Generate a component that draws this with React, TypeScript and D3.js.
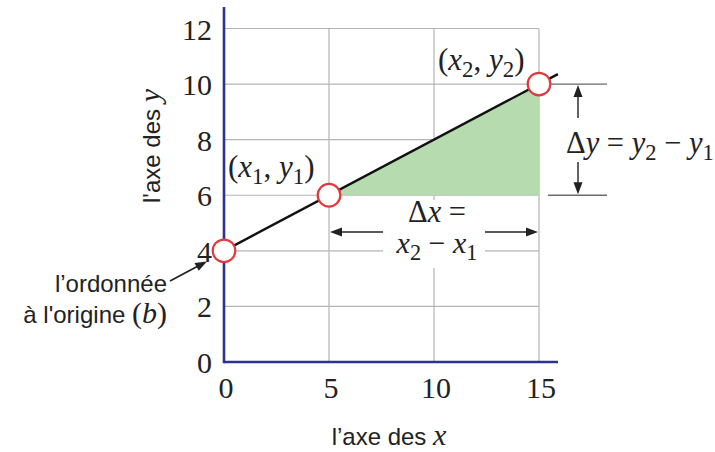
import React from "react";
import * as d3 from "d3";

const xTicks = [0, 5, 10, 15];
const yTicks = [0, 2, 4, 6, 8, 10, 12];
const points = [
  { x: 0, y: 4 },
  { x: 5, y: 6 },
  { x: 15, y: 10 },
];
const lineStart = { x: 0, y: 4 };
const lineEnd = { x: 15.9, y: 10.36 };
const triangle = [
  { x: 5, y: 6 },
  { x: 15, y: 10 },
  { x: 15, y: 6 },
];

const SERIF = "'Liberation Serif', 'Times New Roman', serif";
const SANS = "'Liberation Sans', Arial, sans-serif";

type Seg = { t: string; it?: boolean; sub?: boolean };

function MathText({ x, y, segs, size, anchor = "start" }: { x: number; y: number; segs: Seg[]; size: number; anchor?: string }) {
  const out: React.ReactNode[] = [];
  let inSub = false;
  segs.forEach((s, i) => {
    let dy = 0;
    if (s.sub && !inSub) { dy = size * 0.22; inSub = true; }
    else if (!s.sub && inSub) { dy = -size * 0.22; inSub = false; }
    out.push(
      <tspan key={i} dy={dy || undefined} fontStyle={s.it ? "italic" : "normal"} fontSize={s.sub ? size * 0.74 : size}>
        {s.t}
      </tspan>
    );
  });
  return (
    <text x={x} y={y} fontFamily={SERIF} fontSize={size} textAnchor={anchor} fill="#222">
      {out}
    </text>
  );
}

export default function App() {
  const xs = d3.scaleLinear().domain([0, 15]).range([224, 539]);
  const ys = d3.scaleLinear().domain([0, 12]).range([362, 28.5]);
  const grid = "#b4b4b4";
  const blue = "#2d3192";
  const red = "#e0393e";
  const green = "#b6dbae";
  const dim = "#6a6a6a";

  const area = d3.line<{ x: number; y: number }>().x(d => xs(d.x)).y(d => ys(d.y));
  const line = d3.line<{ x: number; y: number }>().x(d => xs(d.x)).y(d => ys(d.y));

  const dimX = 578;
  const y10 = ys(10), y6 = ys(6);
  const arrowY = 232;

  return (
    <svg width={715} height={452} style={{ position: "absolute", left: 0, top: 0, background: "#fff" }}>
      {/* grid */}
      {xTicks.filter(t => t > 0).map(t => (
        <line key={"gx" + t} x1={xs(t)} x2={xs(t)} y1={ys(12)} y2={ys(0)} stroke={grid} strokeWidth={1.2} />
      ))}
      {yTicks.filter(t => t > 0).map(t => (
        <line key={"gy" + t} x1={xs(0)} x2={xs(15)} y1={ys(t)} y2={ys(t)} stroke={grid} strokeWidth={1.2} />
      ))}
      {/* green triangle */}
      <path d={area(triangle) + "Z"} fill={green} />
      {/* dimension extension lines */}
      <line x1={xs(15)} x2={607} y1={y10} y2={y10} stroke={dim} strokeWidth={1.4} />
      <line x1={548} x2={607} y1={y6} y2={y6} stroke={dim} strokeWidth={1.4} />
      {/* Δy arrows */}
      <line x1={dimX} x2={dimX} y1={y10 + 10} y2={118} stroke="#222" strokeWidth={1.4} />
      <path d={`M${dimX},${y10 + 1} l-4.5,12 h9 Z`} fill="#222" />
      <line x1={dimX} x2={dimX} y1={162} y2={y6 - 10} stroke="#222" strokeWidth={1.4} />
      <path d={`M${dimX},${y6 - 1} l-4.5,-12 h9 Z`} fill="#222" />
      {/* Δx arrow */}
      <line x1={xs(5) + 10} x2={xs(15) - 10} y1={arrowY} y2={arrowY} stroke="#222" strokeWidth={1.4} />
      <path d={`M${xs(5) + 1},${arrowY} l12,-4.5 v9 Z`} fill="#222" />
      <path d={`M${xs(15) - 1},${arrowY} l-12,-4.5 v9 Z`} fill="#222" />
      <rect x={383} y={200} width={102} height={68} fill="#fff" />
      {/* axes */}
      <line x1={xs(0)} x2={xs(0)} y1={7} y2={ys(0) + 1.2} stroke={blue} strokeWidth={2.6} />
      <line x1={xs(0)} x2={558} y1={ys(0)} y2={ys(0)} stroke={blue} strokeWidth={2.6} />
      {/* data line */}
      <path d={line([lineStart, lineEnd]) || ""} stroke="#111" strokeWidth={2.4} fill="none" />
      {/* points */}
      {points.map((p, i) => (
        <circle key={i} cx={xs(p.x)} cy={ys(p.y)} r={11.3} fill="#fff" stroke={red} strokeWidth={2.2} />
      ))}
      {/* tick labels */}
      {yTicks.map(t => (
        <text key={"ty" + t} x={212} y={ys(t) + 11} textAnchor="end" fontFamily={SERIF} fontSize={30} fill="#222">{t}</text>
      ))}
      {xTicks.map(t => (
        <text key={"tx" + t} x={xs(t) + 2} y={398} textAnchor="middle" fontFamily={SERIF} fontSize={30} fill="#222">{t}</text>
      ))}
      {/* axis titles */}
      <text x={389} y={445} textAnchor="middle" fontFamily={SANS} fontSize={24} fill="#222">
        l’axe des <tspan fontFamily={SERIF} fontStyle="italic" fontSize={30}>x</tspan>
      </text>
      <text transform={`translate(160,146) rotate(-90)`} textAnchor="middle" fontFamily={SANS} fontSize={24} fill="#222">
        l'axe des <tspan fontFamily={SERIF} fontStyle="italic" fontSize={30}>y</tspan>
      </text>
      {/* point labels */}
      <MathText x={228} y={177} size={31} segs={[{ t: "(" }, { t: "x", it: true }, { t: "1", sub: true }, { t: ", " }, { t: "y", it: true }, { t: "1", sub: true }, { t: ")" }]} />
      <MathText x={438} y={70} size={31} segs={[{ t: "(" }, { t: "x", it: true }, { t: "2", sub: true }, { t: ", " }, { t: "y", it: true }, { t: "2", sub: true }, { t: ")" }]} />
      <MathText x={566} y={153} size={30.5} segs={[{ t: "Δ" }, { t: "y", it: true }, { t: " = " }, { t: "y", it: true }, { t: "2", sub: true }, { t: " − " }, { t: "y", it: true }, { t: "1", sub: true }]} />
      <MathText x={437} y={222} size={30.5} anchor="middle" segs={[{ t: "Δ" }, { t: "x", it: true }, { t: " =" }]} />
      <MathText x={437} y={253} size={30} anchor="middle" segs={[{ t: "x", it: true }, { t: "2", sub: true }, { t: " − " }, { t: "x", it: true }, { t: "1", sub: true }]} />
      {/* intercept annotation */}
      <text x={167} y={292} textAnchor="end" fontFamily={SANS} fontSize={24} fill="#222">l’ordonnée</text>
      <text x={167} y={323} textAnchor="end" fontFamily={SANS} fontSize={24} fill="#222">
        à l'origine <tspan fontFamily={SERIF} fontSize={30}>(<tspan fontStyle="italic">b</tspan>)</tspan>
      </text>
      <line x1={170} y1={281} x2={200} y2={265} stroke="#222" strokeWidth={1.6} />
      <path d={`M207,261.5 l-12.5,1.5 l4.2,7.8 Z`} fill="#222" />
    </svg>
  );
}
